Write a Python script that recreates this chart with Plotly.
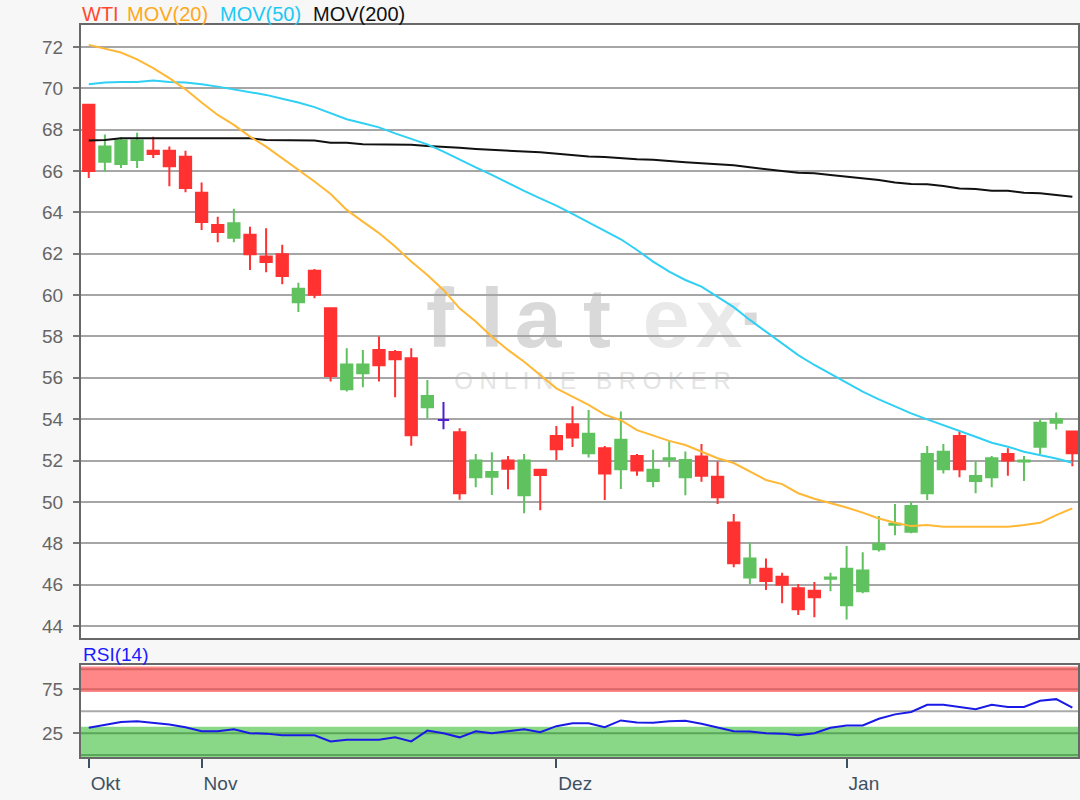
import plotly.graph_objects as go

# ---------------- data ----------------
OPEN = [69.2, 66.45, 66.34, 66.53, 66.98, 66.98, 66.69, 64.95, 63.39, 62.77,
        62.92, 61.87, 61.98, 59.66, 61.18, 59.36, 55.45, 56.22, 57.35, 57.25,
        56.95, 54.58, 53.96, 53.37, 51.19, 51.22, 52.0, 50.32, 51.55, 53.19,
        53.76, 52.35, 52.59, 51.58, 52.22, 51.01, 52.05, 51.19, 52.19, 51.22,
        49.0, 46.35, 46.77, 46.38, 45.82, 45.71, 46.29, 45.0, 45.68, 47.71,
        48.89, 48.56, 50.42, 51.58, 53.19, 51.01, 51.19, 52.32, 51.95, 52.67,
        53.83, 53.4]
HIGH = [69.25, 67.76, 67.63, 67.85, 67.66, 67.18, 66.98, 65.44, 63.79, 64.18,
        63.31, 63.23, 62.44, 60.6, 61.26, 59.36, 57.43, 57.35, 58.0, 57.35,
        57.43, 55.9, 54.83, 53.56, 52.32, 52.4, 52.22, 52.32, 51.55, 53.67,
        54.63, 54.44, 52.7, 54.37, 52.32, 52.52, 52.96, 52.44, 52.8, 51.95,
        49.42, 48.03, 47.27, 46.58, 46.03, 46.13, 46.58, 47.87, 47.57, 49.32,
        49.9, 50.0, 52.7, 52.8, 53.4, 51.95, 52.22, 52.59, 52.22, 54.0,
        54.32, 53.45]
LOW = [65.66, 65.98, 66.15, 66.15, 66.63, 65.26, 64.97, 63.15, 62.55, 62.55,
       61.21, 61.1, 60.53, 59.18, 59.85, 55.82, 55.34, 55.55, 55.82, 55.06,
       52.72, 54.04, 53.51, 50.1, 50.71, 50.34, 50.61, 49.45, 49.6, 52.03,
       52.65, 52.15, 50.09, 50.62, 51.27, 50.71, 51.68, 50.32, 50.98, 49.9,
       46.84, 46.03, 45.74, 45.1, 44.53, 44.42, 45.68, 44.32, 45.58, 47.6,
       48.39, 48.48, 50.09, 51.38, 51.19, 50.42, 50.71, 51.27, 51.01, 52.32,
       53.5, 51.73]
CLOSE = [66.0, 67.18, 67.47, 67.47, 66.82, 66.23, 65.18, 63.53, 63.05, 63.48,
         61.98, 61.6, 60.92, 60.31, 60.02, 56.09, 56.65, 56.65, 56.61, 56.9,
         53.22, 55.12, 53.96, 50.42, 52.0, 51.45, 51.6, 52.0, 51.3, 52.55,
         53.12, 53.29, 51.38, 53.0, 51.52, 51.55, 52.11, 52.03, 51.27, 50.22,
         47.03, 47.26, 46.18, 46.0, 44.81, 45.39, 46.35, 46.77, 46.68, 47.97,
         48.95, 49.8, 52.32, 52.42, 51.58, 51.25, 52.11, 52.0, 52.0, 53.83,
         54.0, 52.35]

MOV20 = [72.1, 71.9, 71.73, 71.4, 70.97, 70.49, 69.95, 69.31, 68.71, 68.23,
         67.66, 67.18, 66.62, 66.05, 65.49, 64.89, 64.12, 63.55, 63.0, 62.35,
         61.62, 60.97, 60.25, 59.36, 58.72, 57.99, 57.35, 56.78, 56.14, 55.49,
         55.09, 54.69, 54.22, 53.95, 53.47, 53.2, 52.95, 52.75, 52.43, 52.11,
         51.88, 51.46, 51.06, 50.86, 50.42, 50.15, 49.95, 49.73, 49.48, 49.2,
         48.99, 48.83, 48.88, 48.8, 48.8, 48.8, 48.8, 48.8, 48.88, 48.99,
         49.36, 49.69]
MOV50 = [70.2, 70.28, 70.3, 70.3, 70.38, 70.3, 70.28, 70.2, 70.08, 69.95,
         69.79, 69.68, 69.49, 69.31, 69.09, 68.79, 68.5, 68.31, 68.11, 67.82,
         67.55, 67.29, 66.94, 66.54, 66.18, 65.81, 65.41, 65.04, 64.68, 64.33,
         63.93, 63.51, 63.12, 62.7, 62.18, 61.62, 61.14, 60.73, 60.41, 59.93,
         59.42, 58.8, 58.23, 57.67, 57.1, 56.62, 56.18, 55.73, 55.33, 54.96,
         54.6, 54.28, 53.99, 53.72, 53.43, 53.15, 52.86, 52.67, 52.43, 52.26,
         52.1, 51.89]
MOV200 = [67.47, 67.5, 67.58, 67.58, 67.58, 67.58, 67.58, 67.58, 67.58, 67.58,
          67.58, 67.5, 67.5, 67.5, 67.47, 67.37, 67.37, 67.3, 67.28, 67.27,
          67.27, 67.21, 67.15, 67.12, 67.07, 67.02, 66.97, 66.94, 66.91, 66.84,
          66.76, 66.7, 66.68, 66.62, 66.57, 66.54, 66.47, 66.42, 66.37, 66.34,
          66.28, 66.18, 66.08, 66.0, 65.92, 65.89, 65.81, 65.73, 65.65, 65.57,
          65.45, 65.37, 65.36, 65.28, 65.16, 65.13, 65.05, 65.04, 64.95, 64.92,
          64.84, 64.76]
RSI = [31.2, 34.6, 37.7, 38.8, 37.3, 35.0, 31.9, 27.3, 27.3, 29.6,
       25.0, 24.6, 22.7, 22.7, 22.7, 15.8, 17.7, 17.7, 17.7, 20.4,
       15.8, 28.1, 25.0, 20.4, 27.3, 25.0, 27.3, 29.6, 26.2, 33.1,
       36.5, 36.5, 31.9, 39.6, 37.3, 36.9, 38.8, 39.2, 35.8, 31.2,
       27.3, 26.9, 25.0, 24.6, 22.7, 25.0, 31.2, 33.8, 33.8, 41.5,
       46.5, 49.2, 57.3, 57.3, 55.0, 52.3, 57.3, 55.0, 55.0, 61.9,
       63.8, 54.2]

MONTH_TICK_IDX = [0, 7, 29, 47]
MONTH_LABELS = ["Okt", "Nov", "Dez", "Jan"]
PRICE_TICKS = list(range(44, 73, 2))
RSI_TICKS = [25, 75]
RSI_UPPER_ZONE = (72, 101)
RSI_LOWER_ZONE = (-3, 32.5)

# ---------------- styling ----------------
W, H = 1080, 800
FONT = "Liberation Sans, Arial, sans-serif"
RED = "#ff3131"
GREEN = "#5fc25f"
DOJI = "#5020d0"
ORANGE = "#ffb835"
CYAN = "#30d0f5"

X_L, X_R = 81, 1078          # plot area px
Y_MAIN_T, Y_MAIN_B = 25, 638
Y_RSI_T, Y_RSI_B = 665, 757.3


def px(x):
    return x / W


def py(y):
    return 1 - y / H


idx = list(range(len(OPEN)))
is_doji = [o == c for o, c in zip(OPEN, CLOSE)]


def pick(arr, keep):
    return [v if k else None for v, k in zip(arr, keep)]


not_doji = [not d for d in is_doji]

fig = go.Figure()

fig.add_trace(go.Scatter(x=idx, y=MOV200, mode="lines",
                         line=dict(color="#111111", width=2), xaxis="x", yaxis="y"))
fig.add_trace(go.Scatter(x=idx, y=MOV50, mode="lines",
                         line=dict(color=CYAN, width=2), xaxis="x", yaxis="y"))
fig.add_trace(go.Scatter(x=idx, y=MOV20, mode="lines",
                         line=dict(color=ORANGE, width=2), xaxis="x", yaxis="y"))

fig.add_trace(go.Candlestick(
    x=idx, open=pick(OPEN, not_doji), high=pick(HIGH, not_doji),
    low=pick(LOW, not_doji), close=pick(CLOSE, not_doji),
    increasing=dict(line=dict(color=GREEN, width=2), fillcolor=GREEN),
    decreasing=dict(line=dict(color=RED, width=2), fillcolor=RED),
    whiskerwidth=0, xaxis="x", yaxis="y"))
fig.add_trace(go.Candlestick(
    x=idx, open=pick(OPEN, is_doji), high=pick(HIGH, is_doji),
    low=pick(LOW, is_doji), close=pick(CLOSE, is_doji),
    increasing=dict(line=dict(color=DOJI, width=2), fillcolor=DOJI),
    decreasing=dict(line=dict(color=DOJI, width=2), fillcolor=DOJI),
    whiskerwidth=0, xaxis="x", yaxis="y"))

fig.add_trace(go.Scatter(x=idx, y=RSI, mode="lines",
                         line=dict(color="#1a1ae6", width=2), xaxis="x2", yaxis="y2"))

xr = [-0.48, 61.35]
axis_line = dict(showline=True, mirror=True, linecolor="#686868", linewidth=2, zeroline=False)

layout = dict(
    width=W, height=H,
    margin=dict(l=0, r=0, t=0, b=0),
    paper_bgcolor="#f7f7f7", plot_bgcolor="#ffffff",
    showlegend=False, hovermode=False,
    font=dict(family=FONT, size=19, color="#666666"),
    boxgap=0.0, boxgroupgap=0.3,
    xaxis=dict(domain=[px(X_L), px(X_R)], range=xr, anchor="y",
               showticklabels=False, showgrid=False, ticks="",
               rangeslider=dict(visible=False), **axis_line),
    yaxis=dict(domain=[py(Y_MAIN_B), py(Y_MAIN_T)], range=[43.42, 73.06], anchor="x",
               tickvals=PRICE_TICKS, ticks="outside", ticklen=6, tickwidth=1.5,
               tickcolor="#777777", showgrid=True, gridcolor="#a6a6a6", gridwidth=2,
               tickfont=dict(size=19, color="#666666"), ticklabelstandoff=6,
               **axis_line),
    xaxis2=dict(domain=[px(X_L), px(X_R)], range=xr, anchor="y2", matches="x",
                tickvals=MONTH_TICK_IDX, ticktext=MONTH_LABELS, ticks="outside",
                ticklen=9, tickwidth=2, tickcolor="#3e5163",
                tickfont=dict(size=19, color="#3e5163"), ticklabelstandoff=8,
                ticklabelposition="outside right", showgrid=False,
                rangeslider=dict(visible=False), **axis_line),
    yaxis2=dict(domain=[py(Y_RSI_B), py(Y_RSI_T)], range=[-2.3, 102.6], anchor="x2",
                tickvals=RSI_TICKS, ticks="outside", ticklen=6, tickwidth=1.5,
                tickcolor="#777777", showgrid=False,
                tickfont=dict(size=19, color="#666666"), ticklabelstandoff=6,
                **axis_line),
)
fig.update_layout(**layout)

# RSI zones
shapes = []
shapes.append(dict(type="rect", xref="x2 domain", yref="y2", x0=0, x1=1,
                   y0=RSI_UPPER_ZONE[0], y1=RSI_UPPER_ZONE[1],
                   fillcolor="#ff8787", line=dict(width=0), layer="below"))
shapes.append(dict(type="rect", xref="x2 domain", yref="y2", x0=0, x1=1,
                   y0=RSI_LOWER_ZONE[0], y1=RSI_LOWER_ZONE[1],
                   fillcolor="#88d888", line=dict(width=0), layer="below"))
for yv, col in [(97.7, "#d86464"), (75, "#d86464"), (25, "#5aa65a"), (0.3, "#5aa65a"), (50, "#aaaaaa")]:
    shapes.append(dict(type="line", xref="x2 domain", yref="y2", x0=0, x1=1, y0=yv, y1=yv,
                       line=dict(color=col, width=2), layer="below"))

# watermark (below grid)
WM = [("f", 440, "#d9d9d9"), ("l", 492, "#d9d9d9"), ("a", 538, "#d9d9d9"),
      ("t", 597, "#d9d9d9"), ("e", 666, "#e9e9e9"), ("x", 719, "#e9e9e9"),
      ("\u00b7", 753, "#d9d9d9")]
for ch, cx, col in WM:
    shapes.append(dict(type="rect", xref="paper", yref="paper",
                       x0=px(cx - 40), x1=px(cx + 40), y0=py(360), y1=py(260),
                       line=dict(width=0), fillcolor="rgba(0,0,0,0)", layer="below",
                       label=dict(text=ch, textposition="middle center",
                                  font=dict(family=FONT, size=84, color=col, weight="bold"))))
shapes.append(dict(type="rect", xref="paper", yref="paper",
                   x0=px(440), x1=px(745), y0=py(392), y1=py(364),
                   line=dict(width=0), fillcolor="rgba(0,0,0,0)", layer="below",
                   label=dict(text="O N L I N E   B R O K E R", textposition="middle center",
                              font=dict(family=FONT, size=24, color="#e4e4e4"))))
fig.update_layout(shapes=shapes)

# title legend
ann = []
for txt, x0, col in [("WTI", 80, "#ff4a2e"), ("MOV(20)", 125, "#ffa81a"),
                     ("MOV(50)", 218, "#1ec8f5"), ("MOV(200)", 311, "#111111")]:
    ann.append(dict(text=txt, x=px(x0), y=py(14.5), xref="paper", yref="paper",
                    xanchor="left", yanchor="middle", showarrow=False,
                    font=dict(family=FONT, size=20, color=col)))
ann.append(dict(text="RSI(14)", x=px(80.5), y=py(654), xref="paper", yref="paper",
                xanchor="left", yanchor="middle", showarrow=False,
                font=dict(family=FONT, size=19, color="#1a1aff")))
fig.update_layout(annotations=ann)

fig.write_html("out.html", config={"displayModeBar": False},
               post_script="document.body.style.margin='0';document.body.style.background='#f7f7f7';")
